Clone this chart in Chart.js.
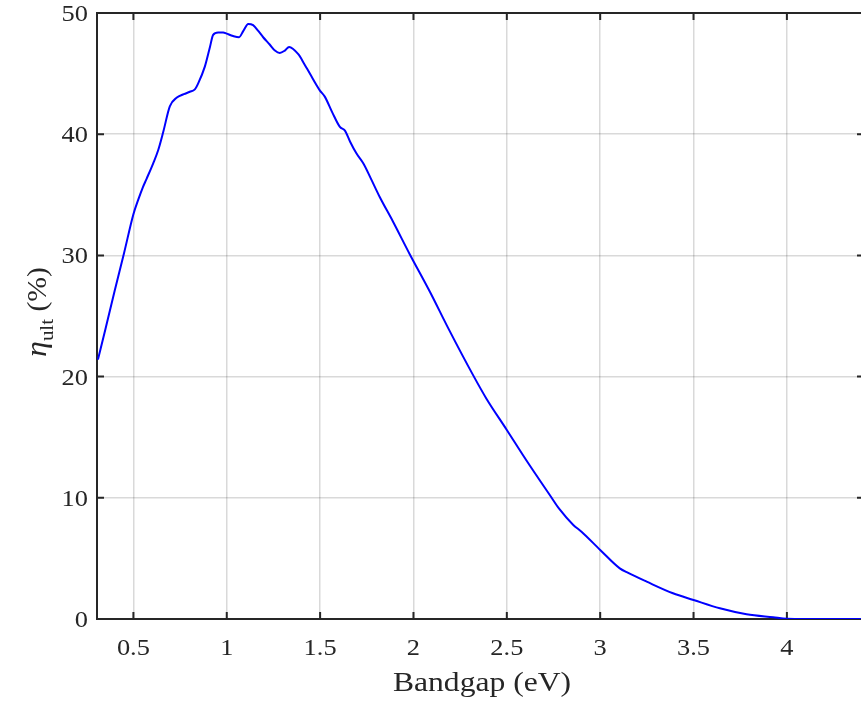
<!DOCTYPE html>
<html>
<head>
<meta charset="utf-8">
<script src="https://cdn.jsdelivr.net/npm/chart.js@4/dist/chart.umd.min.js"></script>
<style>
html,body{margin:0;padding:0;background:#fff;overflow:hidden;}
#wrap{width:861px;height:704px;position:relative;overflow:hidden;}
#c{display:block;}
</style>
</head>
<body>
<div id="wrap"><canvas id="c" width="864" height="704"></canvas></div>
<script>
// Bandgap (eV)
const bandgap = [0.31,0.35,0.40,0.45,0.50,0.526,0.55,0.57,0.606,0.633,0.66,0.695,0.731,0.77,0.802,0.829,0.847,0.883,0.91,0.927,0.954,0.981,0.999,1.034,1.066,1.088,1.115,1.141,1.17,1.195,1.23,1.258,1.284,1.311,1.334,1.383,1.415,1.445,1.499,1.525,1.565,1.606,1.633,1.66,1.695,1.731,1.77,1.82,1.89,1.98,2.088,2.186,2.32,2.39,2.5,2.6,2.74,2.78,2.856,2.9,3.0,3.105,3.15,3.249,3.39,3.5,3.641,3.784,3.927,4.0,4.1,4.2,4.3,4.41];
// Ultimate efficiency (%)
const efficiency = [21.4,23.9,27.1,30.2,33.4,34.6,35.6,36.3,37.6,38.7,40.2,42.3,43.0,43.3,43.5,43.7,44.2,45.6,47.2,48.2,48.4,48.4,48.3,48.1,48.0,48.5,49.1,49.0,48.5,48.0,47.4,46.9,46.7,46.9,47.2,46.6,45.8,45.0,43.6,43.1,41.8,40.6,40.3,39.4,38.4,37.6,36.4,34.8,32.8,30.1,27.0,24.0,20.1,18.2,15.6,13.2,10.0,9.1,7.76,7.2,5.7,4.18,3.8,3.08,2.12,1.57,0.88,0.39,0.14,0.02,0,0,0,0];
const xTicks = [0.5,1,1.5,2,2.5,3,3.5,4];
const yTicks = [0,10,20,30,40,50];
const xTitle = 'Bandgap (eV)';

const FONT = '"Liberation Serif","Times New Roman",serif';
const AX = '#262626';

const points = bandgap.map((x,i)=>({x:x,y:efficiency[i]}));

function stretchedText(ctx, text, x, y, sx, align){
  ctx.save();
  ctx.translate(x, y);
  ctx.scale(sx, 1);
  ctx.textAlign = align;
  ctx.fillText(text, 0, 0);
  ctx.restore();
}

const framePlugin = {
  id:'frame',
  beforeDatasetsDraw(chart){
    const ctx = chart.ctx, a = chart.chartArea;
    const xs = chart.scales.x, ys = chart.scales.y;
    ctx.save();
    ctx.strokeStyle = AX; ctx.lineWidth = 2;
    ctx.beginPath();
    ctx.moveTo(a.left, a.top); ctx.lineTo(a.right, a.top);
    ctx.moveTo(a.left, a.top - 1); ctx.lineTo(a.left, a.bottom + 1);
    ctx.moveTo(a.left, a.bottom); ctx.lineTo(a.right, a.bottom);
    ctx.moveTo(a.right - 1, a.top); ctx.lineTo(a.right - 1, a.bottom);
    const tl = 7;
    xTicks.forEach(v=>{
      const p = xs.getPixelForValue(v);
      ctx.moveTo(p, a.bottom); ctx.lineTo(p, a.bottom - tl);
      ctx.moveTo(p, a.top); ctx.lineTo(p, a.top + tl);
    });
    yTicks.forEach(v=>{
      const p = ys.getPixelForValue(v);
      ctx.moveTo(a.left, p); ctx.lineTo(a.left + tl, p);
      ctx.moveTo(a.right, p); ctx.lineTo(a.right - tl, p);
    });
    ctx.stroke();
    ctx.restore();
  },
  afterDraw(chart){
    const ctx = chart.ctx, a = chart.chartArea;
    const xs = chart.scales.x, ys = chart.scales.y;
    ctx.save();
    ctx.fillStyle = AX;
    ctx.textBaseline = 'alphabetic';
    // tick labels
    ctx.font = '24px ' + FONT;
    xTicks.forEach(v=>{
      stretchedText(ctx, String(v), xs.getPixelForValue(v), 655, 1.1, 'center');
    });
    yTicks.forEach(v=>{
      stretchedText(ctx, String(v), 88, ys.getPixelForValue(v) + 8, 1.1, 'right');
    });
    // x title
    ctx.font = '27px ' + FONT;
    stretchedText(ctx, xTitle, 482, 691, 1.17, 'center');
    // y title: eta_ult (%)
    ctx.translate(46, 312);
    ctx.rotate(-Math.PI/2);
    ctx.scale(1.1, 1);
    ctx.textAlign = 'left';
    const f1 = 'italic 29px ' + FONT, f2 = '19px ' + FONT, f3 = '27px ' + FONT;
    ctx.font = f1; const w1 = ctx.measureText('\u03B7').width;
    ctx.font = f2; const w2 = ctx.measureText('ult').width;
    ctx.font = f3; const w3 = ctx.measureText(' (%)').width;
    let x0 = -(w1 + w2 + w3)/2;
    ctx.font = f1; ctx.fillText('\u03B7', x0, 0); x0 += w1;
    ctx.font = f2; ctx.fillText('ult', x0, 7); x0 += w2;
    ctx.font = f3; ctx.fillText(' (%)', x0, 0);
    ctx.restore();
  }
};

new Chart(document.getElementById('c'), {
  type:'scatter',
  data:{datasets:[{
    data:points,
    showLine:true,
    borderColor:'#0000ff',
    borderWidth:2,
    pointRadius:0,
    cubicInterpolationMode:'monotone'
  }]},
  options:{
    responsive:false,
    animation:false,
    layout:{padding:{left:0,right:0,top:13,bottom:0}},
    plugins:{legend:{display:false},tooltip:{enabled:false}},
    scales:{
      x:{
        type:'linear', min:0.305, max:4.413,
        afterBuildTicks(s){ s.ticks = xTicks.map(v=>({value:v})); },
        afterFit(s){ s.height = 85; s.paddingLeft = 0; s.paddingRight = 0; },
        grid:{color:'rgba(0,0,0,0.15)', lineWidth:1.5, drawTicks:false},
        border:{display:false},
        ticks:{display:false}
      },
      y:{
        type:'linear', min:0, max:50,
        afterBuildTicks(s){ s.ticks = yTicks.map(v=>({value:v})); },
        afterFit(s){ s.width = 97; s.paddingTop = 0; s.paddingBottom = 0; },
        grid:{color:'rgba(0,0,0,0.15)', lineWidth:1.5, drawTicks:false},
        border:{display:false},
        ticks:{display:false}
      }
    }
  },
  plugins:[framePlugin]
});
</script>
</body>
</html>
